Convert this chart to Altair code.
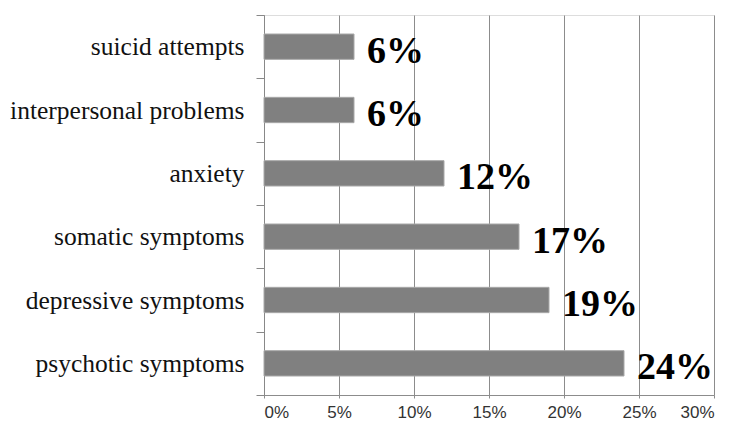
import altair as alt
import pandas as pd

categories = ["suicid attempts", "interpersonal problems", "anxiety",
              "somatic symptoms", "depressive symptoms", "psychotic symptoms"]
values = [0.06, 0.06, 0.12, 0.17, 0.19, 0.24]
labels = ["6%", "6%", "12%", "17%", "19%", "24%"]

df = pd.DataFrame({"cat": categories, "val": values, "lab": labels})

y_enc = alt.Y("cat:N", sort=categories, title=None,
              scale=alt.Scale(paddingInner=0, paddingOuter=0),
              axis=alt.Axis(tickBand="extent", tickSize=8, tickColor="#888888",
                            domainColor="#888888", labelFont="Liberation Serif",
                            labelFontSize=25.5, labelColor="#111111", labelPadding=12,
                            grid=False, labelLimit=400))
x_enc = alt.X("val:Q", title=None,
              scale=alt.Scale(domain=[0, 0.30], nice=False),
              axis=alt.Axis(format=".0%", values=[0, 0.05, 0.10, 0.15, 0.20, 0.25, 0.30],
                            grid=True, gridColor="#8c8c8c", gridWidth=1,
                            domainColor="#8c8c8c", tickColor="#8c8c8c", tickSize=3,
                            labelFont="Liberation Sans", labelFontSize=17,
                            labelColor="#333333", labelPadding=6))

bars = alt.Chart(df).mark_bar(color="#808080", stroke="#a8a8a8", strokeWidth=1,
                              height=alt.RelativeBandSize(0.4)).encode(
    x=x_enc, y=y_enc)

text = alt.Chart(df).mark_text(align="left", baseline="middle", dx=13, dy=5,
                               font="Liberation Serif", fontWeight="bold",
                               fontSize=38, color="#000000").encode(
    x="val:Q", y=alt.Y("cat:N", sort=categories), text="lab:N")

chart = (bars + text).properties(
    width=450, height=380,
    autosize=alt.AutoSizeParams(type="none"),
    padding={"left": 264, "top": 15, "right": 20, "bottom": 35},
).configure_view(stroke=None).configure(background="white")

chart.save("out.html", embed_options={"renderer": "svg", "actions": False})
